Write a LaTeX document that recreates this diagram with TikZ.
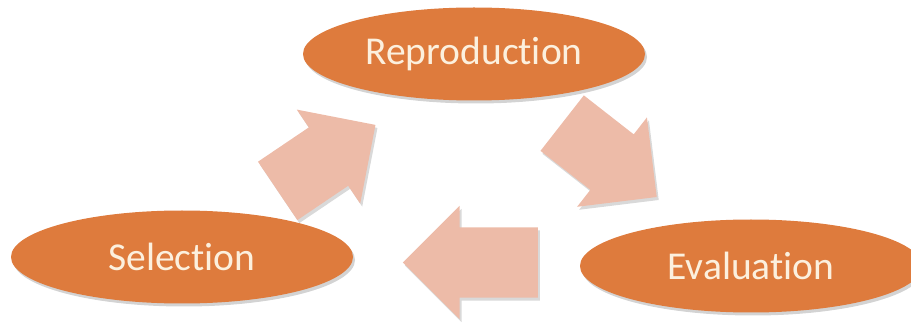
\documentclass[tikz,border=0pt]{standalone}
\usepackage{fontspec}
\setmainfont{Carlito}[Ligatures=NoCommon]
\usepackage{xcolor}
\usepackage{tikz}
\usetikzlibrary{shapes.geometric,shapes.arrows,shadows}
\definecolor{stagefill}{HTML}{DE7B3D}
\definecolor{stagetext}{HTML}{FCF0DE}
\definecolor{turnfill}{HTML}{EDBBA8}
\tikzset{
  stage/.style={ellipse,fill=stagefill,inner sep=0pt,minimum width=342pt,
    minimum height=93pt,text=stagetext,font=\fontsize{39.5}{47}\selectfont,
    drop shadow={opacity=0.35,shadow xshift=2pt,shadow yshift=-3pt}},
  % --- the fat block arrows between the stages ---
  turn/.style={single arrow,fill=turnfill,inner xsep=0pt,inner ysep=35pt,
    minimum width=113pt,single arrow head extend=21.5pt,single arrow tip angle=90,
    anchor=tail,drop shadow={opacity=0.3,shadow xshift=2pt,shadow yshift=-3pt}},
}
\begin{document}
\begin{tikzpicture}[x=1pt,y=-1pt]
  \clip (0,0) rectangle (911,323);
  \node[turn,minimum height=118pt,rotate=34]  (up)   at (277.5,191) {};
  \node[turn,minimum height=120pt,rotate=-38] (down) at (562,123) {};
  \node[turn,minimum height=135pt,rotate=180] (back) at (538,262.5) {};
  \node[stage] (rep) at (474,54)  {Reproduction};
  \node[stage] (sel) at (182,257) {Selection};
  \node[stage] (eva) at (751,266) {Evaluation};
\end{tikzpicture}
\end{document}
